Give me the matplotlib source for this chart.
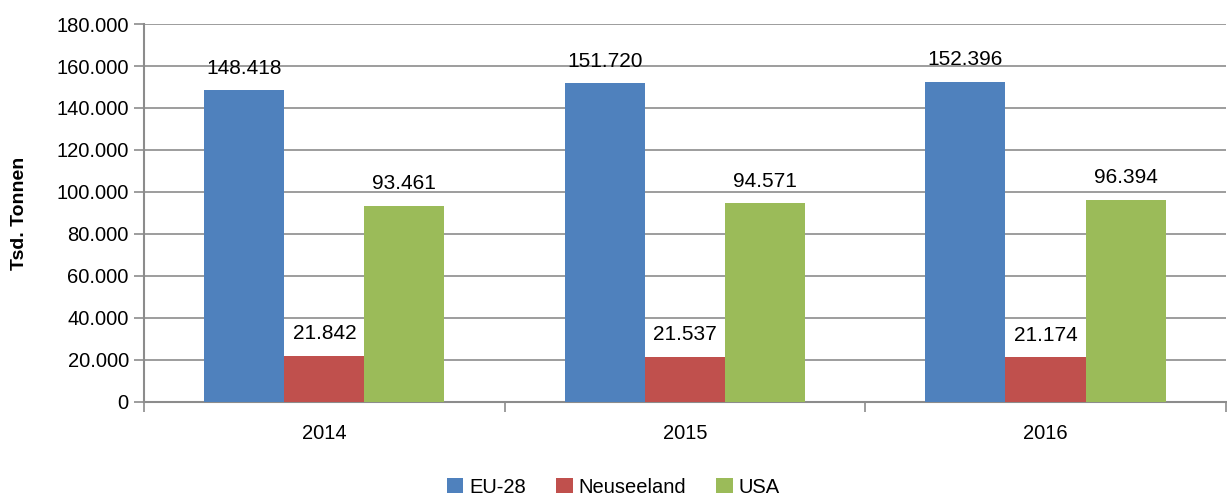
import matplotlib
matplotlib.use("Agg")
import matplotlib.pyplot as plt
import numpy as np
from matplotlib.ticker import FuncFormatter

years = ["2014", "2015", "2016"]
series_names = ["EU-28", "Neuseeland", "USA"]
eu28 = [148418, 151720, 152396]
neuseeland = [21842, 21537, 21174]
usa = [93461, 94571, 96394]
colors = ["#4F81BD", "#C0504D", "#9BBB59"]

plt.rcParams["font.family"] = ["Liberation Sans", "DejaVu Sans"]

def de_fmt(v, pos=None):
    return f"{int(round(v)):,}".replace(",", ".")

fig = plt.figure(figsize=(12.27, 4.95), dpi=100)
ax = fig.add_axes([0.1174, 0.188, 0.8816, 0.7635])

x = np.arange(len(years))
width = 0.222
for i, (name, vals) in enumerate(zip(series_names, [eu28, neuseeland, usa])):
    pos = x + (i - 1) * width
    bars = ax.bar(pos, vals, width, color=colors[i], label=name, zorder=3)
    for b, v in zip(bars, vals):
        ax.text(b.get_x() + b.get_width() / 2, v + 6000, de_fmt(v),
                ha="center", va="bottom", fontsize=15)

ax.set_xlim(-0.5, len(years) - 0.5)
ax.set_ylim(0, 180000)
ax.set_yticks(np.arange(0, 180001, 20000))
ax.yaxis.set_major_formatter(FuncFormatter(de_fmt))
ax.yaxis.grid(True, color="#8c8c8c", linewidth=1.2, zorder=0)
ax.set_axisbelow(True)

ax.set_xticks(x)
ax.set_xticklabels(years)
ax.set_xticks(np.arange(-0.5, len(years)), minor=True)
ax.tick_params(axis="x", which="major", length=0, pad=16, labelsize=14.5)
ax.tick_params(axis="x", which="minor", length=7, color="#8c8c8c", width=1.2)
ax.tick_params(axis="y", length=7, color="#8c8c8c", width=1.2, labelsize=14.5, pad=4)

for s in ["top", "right"]:
    ax.spines[s].set_visible(False)
for s in ["left", "bottom"]:
    ax.spines[s].set_color("#8c8c8c")
    ax.spines[s].set_linewidth(1.5)

ax.set_ylabel("Tsd. Tonnen", fontsize=14, fontweight="bold", labelpad=20)

fig.legend(loc="lower center", ncol=3, frameon=False, fontsize=14.5,
           bbox_to_anchor=(0.5, -0.04), handlelength=0.8, handleheight=0.8,
           handletextpad=0.3, columnspacing=1.5)

fig.savefig("out.png", dpi=100)
